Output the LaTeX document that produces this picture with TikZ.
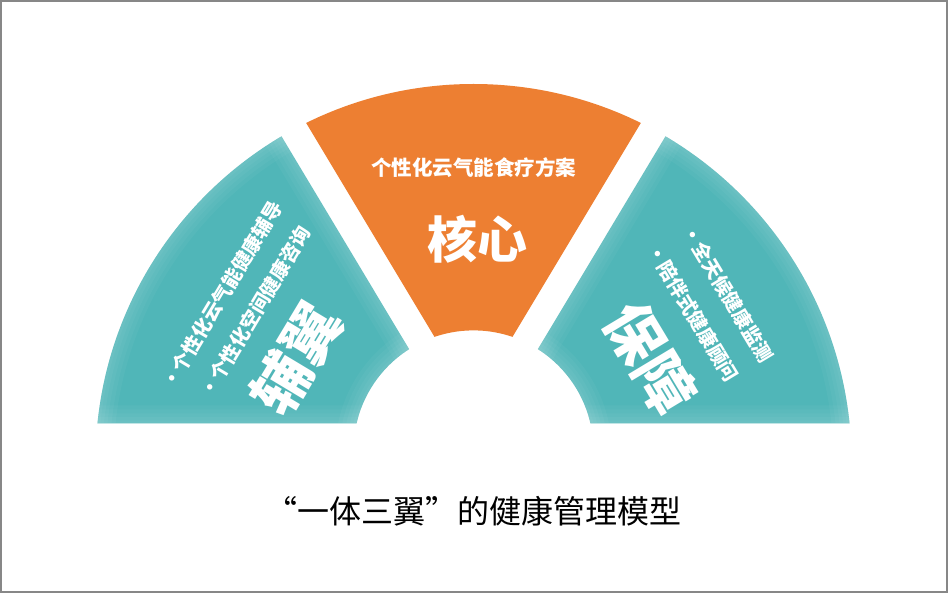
\documentclass[tikz,border=0pt]{standalone}
\usepackage{fontspec}
\newfontfamily\cjk{Noto Sans CJK SC}
\definecolor{tealc}{HTML}{50B6B8}
\definecolor{orangec}{HTML}{ED7F32}
\definecolor{framec}{HTML}{878787}
\tikzset{
  sidetxt/.style={text=white,inner sep=0pt,font=\cjk\bfseries\fontsize{19.5}{22}\selectfont},
  bigtxt/.style={text=white,inner sep=0pt,font=\cjk\bfseries\fontsize{58}{62}\selectfont},
  glow/.style={draw=white,draw opacity=0.035}
}
\newcommand\bul{\makebox[1em][c]{·}}
\def\annulus{(473.5,462) circle[radius=378] (473.5,450.4) circle[radius=120]}
\def\glowlines#1{%
  \foreach \w in {36,28,20,13,6}{%
    \draw[glow,line width=\w pt] (473.5,462) circle[radius=378];
    \draw[glow,line width=\w pt] (473.5,450.4) circle[radius=120];
    \draw[glow,line width=\w pt] #1;
  }}
\begin{document}
\begin{tikzpicture}[x=1pt,y=-1pt]
\useasboundingbox (0,0) rectangle (948,593);
\fill[white] (0,0) rectangle (948,593);
% left wing
\begin{scope}
  \clip (0,0) -- (199.7,0) -- (453.6,423.3) -- (0,423.3) -- cycle;
  \begin{scope}[even odd rule]
  \clip \annulus;
  \fill[tealc] (0,0) rectangle (948,593);
  \glowlines{(199.7,0) -- (453.6,423.3) -- (0,423.3)}
  \end{scope}
\end{scope}
% right wing
\begin{scope}
  \clip (948,0) -- (747.3,0) -- (493.4,423.3) -- (948,423.3) -- cycle;
  \begin{scope}[even odd rule]
  \clip \annulus;
  \fill[tealc] (0,0) rectangle (948,593);
  \glowlines{(747.3,0) -- (493.4,423.3) -- (948,423.3)}
  \end{scope}
\end{scope}
% core
\begin{scope}
  \clip (473.5,401.9) -- (232.4,0) -- (714.6,0) -- cycle;
  \fill[orangec, even odd rule] \annulus;
\end{scope}
% texts
\node[sidetxt,font=\cjk\bfseries\fontsize{20.5}{24}\selectfont] (coresub) at (473.5,168) {个性化云气能食疗方案};
\node[text=white,inner sep=0pt,font=\cjk\bfseries\fontsize{50}{54}\selectfont] (core) at (477,239) {核心};
\node[sidetxt,rotate=59] (l1) at (222,295) {\bul 个性化云气能健康辅导};
\node[sidetxt,rotate=59] (l2) at (255,312) {\bul 个性化空间健康咨询};
\node[bigtxt,rotate=59] (lbig) at (296,358) {辅翼};
\node[sidetxt,rotate=-59] (r1) at (728,294) {\bul 全天候健康监测};
\node[sidetxt,rotate=-59] (r2) at (693,313) {\bul 陪伴式健康顾问};
\node[bigtxt,rotate=-59] (rbig) at (651,358) {保障};
\node[inner sep=0pt,text=black,font=\cjk\fontsize{32}{36}\selectfont] (title) at (473.5,511) {“一体三翼”的健康管理模型};
% frame
\draw[framec,line width=2pt] (1,1) rectangle (947,592);
\end{tikzpicture}
\end{document}
